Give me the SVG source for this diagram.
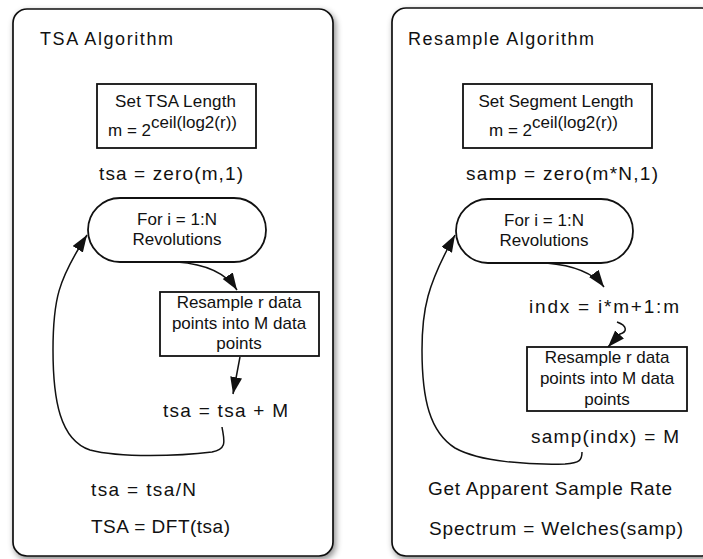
<svg xmlns="http://www.w3.org/2000/svg" width="703" height="559" viewBox="0 0 703 559">
<style>
text{font-family:"Liberation Sans",Arial,sans-serif;fill:#111;}
.t{font-size:18px;}
.b{font-size:17px;}
.e{font-size:19px;}
.m{text-anchor:middle;}
.panel{fill:#fff;stroke:#111;stroke-width:1.7;}
.box{fill:#fff;stroke:#111;stroke-width:1.8;}
.con{fill:none;stroke:#111;stroke-width:1.5;}
</style>
<defs>
<filter id="sh" x="-10%" y="-10%" width="125%" height="125%">
<feDropShadow dx="2" dy="3" stdDeviation="3" flood-color="#000" flood-opacity="0.45"/>
</filter>
<marker id="ah" markerWidth="18" markerHeight="13" refX="17" refY="6" orient="auto" markerUnits="userSpaceOnUse">
<path d="M0,0 L17,6 L0,12 z" fill="#111"/>
</marker>
</defs>

<g id="panel-tsa">
<rect class="panel" x="13" y="9" width="320" height="547" rx="14" filter="url(#sh)"/>
<text class="t" x="40" y="45" textLength="133" lengthAdjust="spacing">TSA Algorithm</text>
</g>
<g id="panel-resample">
<rect class="panel" x="392" y="8" width="324" height="548" rx="14" filter="url(#sh)"/>
<text class="t" x="408" y="45" textLength="186" lengthAdjust="spacing">Resample Algorithm</text>
</g>

<g id="connectors">
<path class="con" d="M177 262 C205 264 226 273 237 290" marker-end="url(#ah)"/>
<path class="con" d="M240 357 L233 394" marker-end="url(#ah)"/>
<path class="con" d="M222 427 C224 440 228 449 212 452 C180 456 120 458 90 450 C60 440 53 400 53 350 C53 300 58 280 87 235" marker-end="url(#ah)"/>
<path class="con" d="M546 263 C570 265 592 271 604 287" marker-end="url(#ah)"/>
<path class="con" d="M617 322 C628 326 627 332 620 334 L608 347" marker-end="url(#ah)"/>
<path class="con" d="M582 452 C582 460 580 463 565 464 C530 465 480 462 455 448 C430 432 422 400 422 350 C422 310 427 285 455 235" marker-end="url(#ah)"/>
</g>

<g id="set-tsa-length">
<rect class="box" x="97" y="84" width="159" height="64"/>
<text class="b" x="115" y="107" textLength="121" lengthAdjust="spacing">Set TSA Length</text>
<text class="b" x="108" y="136">m = 2<tspan dy="-8">ceil(log2(r))</tspan></text>
</g>
<g id="tsa-zero">
<text class="e" x="99" y="180" textLength="144" lengthAdjust="spacing">tsa = zero(m,1)</text>
</g>
<g id="loop-tsa">
<rect class="box" x="88" y="198" width="178" height="64" rx="32"/>
<text class="b m" x="177" y="225">For i = 1:N</text>
<text class="b m" x="177" y="245">Revolutions</text>
</g>
<g id="resample-tsa">
<rect class="box" x="160" y="292" width="159" height="64"/>
<text class="b m" x="239" y="308">Resample r data</text>
<text class="b m" x="239" y="329">points into M data</text>
<text class="b m" x="239" y="349">points</text>
</g>
<g id="tsa-accumulate">
<text class="e" x="163" y="417" textLength="125" lengthAdjust="spacing">tsa = tsa + M</text>
</g>
<g id="tsa-divide">
<text class="e" x="91" y="496" textLength="105" lengthAdjust="spacing">tsa = tsa/N</text>
</g>
<g id="tsa-dft">
<text class="e" x="91" y="533" textLength="139" lengthAdjust="spacing">TSA = DFT(tsa)</text>
</g>

<g id="set-segment-length">
<rect class="box" x="463" y="84" width="189" height="64"/>
<text class="b m" x="556" y="107">Set Segment Length</text>
<text class="b" x="489" y="136">m = 2<tspan dy="-8">ceil(log2(r))</tspan></text>
</g>
<g id="samp-zero">
<text class="e" x="466" y="180" textLength="192" lengthAdjust="spacing">samp = zero(m*N,1)</text>
</g>
<g id="loop-resample">
<rect class="box" x="456" y="199" width="177" height="64" rx="32"/>
<text class="b m" x="544" y="226">For i = 1:N</text>
<text class="b m" x="544" y="246">Revolutions</text>
</g>
<g id="indx">
<text class="e" x="529" y="313" textLength="150" lengthAdjust="spacing">indx = i*m+1:m</text>
</g>
<g id="resample-seg">
<rect class="box" x="527" y="347" width="160" height="64"/>
<text class="b m" x="607" y="363">Resample r data</text>
<text class="b m" x="607" y="384">points into M data</text>
<text class="b m" x="607" y="405">points</text>
</g>
<g id="samp-assign">
<text class="e" x="531" y="443" textLength="148" lengthAdjust="spacing">samp(indx) = M</text>
</g>
<g id="apparent-rate">
<text class="e" x="428" y="495" textLength="244" lengthAdjust="spacing">Get Apparent Sample Rate</text>
</g>
<g id="spectrum">
<text class="e" x="429" y="535" textLength="254" lengthAdjust="spacing">Spectrum = Welches(samp)</text>
</g>
</svg>
